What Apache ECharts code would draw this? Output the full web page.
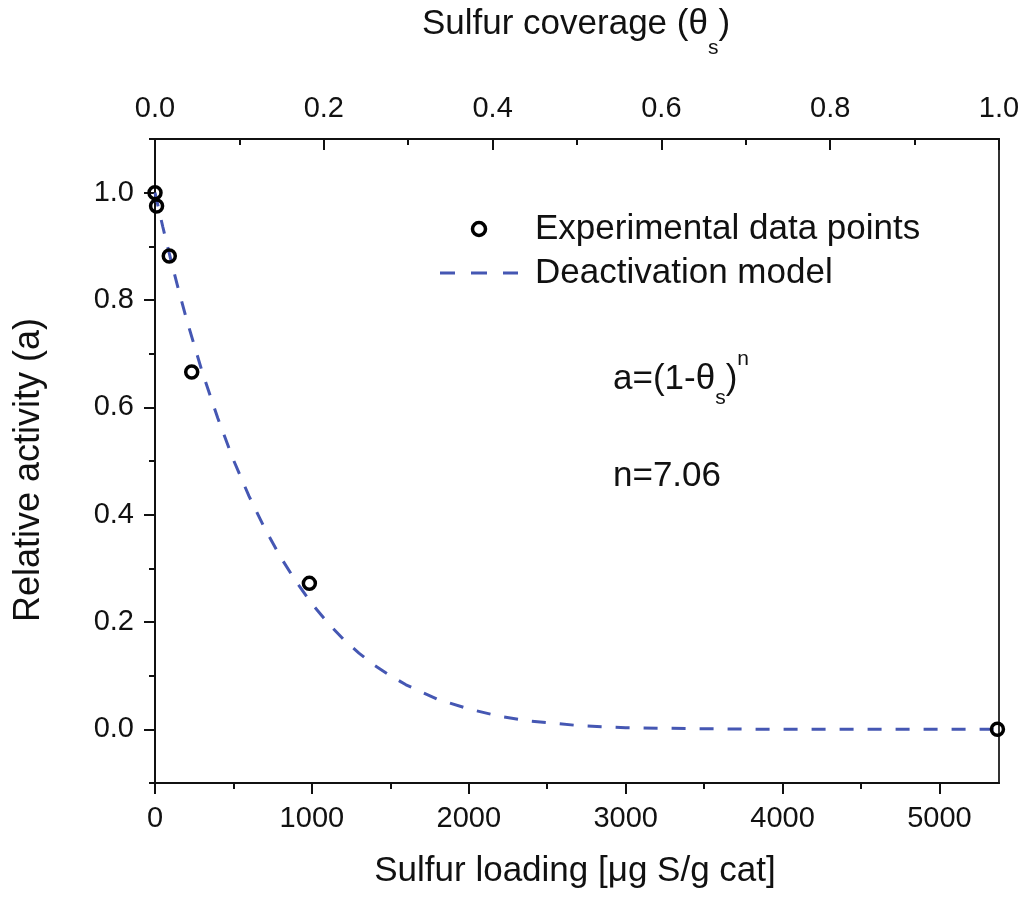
<!DOCTYPE html>
<html>
<head>
<meta charset="utf-8">
<script src="https://cdn.jsdelivr.net/npm/echarts@6/dist/echarts.min.js"></script>
<style>
html,body{margin:0;padding:0;background:#fff;}
#chart{width:1029px;height:901px;}
</style>
</head>
<body>
<div id="chart"></div>
<script>
// Experimental data points (sulfur loading in µg S/g cat, relative activity)
const expLoading = [0, 10, 91, 234, 984, 5370];
const expActivity = [1.0, 0.975, 0.882, 0.666, 0.272, 0.0];

// Deactivation model curve
const modelLoading = [0, 50, 100, 150, 200, 300, 400, 500, 600, 700, 800, 900, 1000, 1100, 1200, 1300, 1400, 1500, 1600, 1800, 2000, 2200, 2400, 2700, 3000, 3500, 4000, 4500, 5000, 5380];
const modelActivity = [1.0, 0.936, 0.876, 0.819, 0.765, 0.667, 0.580, 0.502, 0.434, 0.374, 0.321, 0.275, 0.234, 0.199, 0.168, 0.142, 0.119, 0.100, 0.083, 0.056, 0.038, 0.024, 0.015, 0.007, 0.003, 0.001, 0.0, 0.0, 0.0, 0.0];

// Tick values
const bottomMajor = [0, 1000, 2000, 3000, 4000, 5000];
const bottomMinor = [500, 1500, 2500, 3500, 4500];
const topMajor = [0, 0.2, 0.4, 0.6, 0.8, 1.0];
const topMinor = [0.1, 0.3, 0.5, 0.7, 0.9];
const leftMajor = [0, 0.2, 0.4, 0.6, 0.8, 1.0];
const leftMinor = [-0.1, 0.1, 0.3, 0.5, 0.7, 0.9, 1.1];

const FONT = '"Liberation Sans", Arial, Helvetica, sans-serif';
const AX = '#111';
const BLUE = '#4557b3';
const TXT = 35;
const TICK = 29;

const chart = echarts.init(document.getElementById('chart'), null, {renderer: 'canvas'});

const noSplit = {show: false};

const option = {
  backgroundColor: '#fff',
  animation: false,
  textStyle: {fontFamily: FONT},
  grid: {left: 155, right: 30, top: 139, bottom: 118, show: true, borderColor: '#333', borderWidth: 2, backgroundColor: 'transparent'},
  legend: {
    orient: 'vertical', left: 440, top: 211, padding: 0,
    itemWidth: 78, itemHeight: 13, itemGap: 8,
    textStyle: {fontFamily: FONT, fontSize: TXT, color: '#111', lineHeight: 36, padding: [0, 0, 0, 12]},
    data: [
      {name: 'Experimental data points', itemStyle: {color: 'rgba(255,255,255,0)', borderColor: '#000', borderWidth: 3.5}},
      {name: 'Deactivation model', icon: 'path://M0,0h15v3h-15z M31,0h16v3h-16z M63,0h15v3h-15z'}
    ]
  },
  xAxis: [
    {
      type: 'value', position: 'bottom', min: 0, max: 5380,
      axisLine: {show: true, onZero: false, lineStyle: {color: AX, width: 2}},
      axisTick: {show: true, inside: false, length: 11, customValues: bottomMajor, lineStyle: {color: AX, width: 2}},
      axisLabel: {show: true, customValues: bottomMajor, margin: 21, fontSize: TICK, color: '#111', fontFamily: FONT,
        formatter: v => String(Math.round(v))},
      splitLine: noSplit
    },
    {
      type: 'value', position: 'bottom', min: 0, max: 5380,
      axisLine: {show: false, onZero: false},
      axisTick: {show: true, inside: false, length: 6, customValues: bottomMinor, lineStyle: {color: AX, width: 2}},
      axisLabel: {show: false},
      splitLine: noSplit
    },
    {
      type: 'value', position: 'top', min: 0, max: 1,
      axisLine: {show: true, onZero: false, lineStyle: {color: AX, width: 2}},
      axisTick: {show: true, inside: true, length: 11, customValues: topMajor, lineStyle: {color: AX, width: 2}},
      axisLabel: {show: true, customValues: topMajor, margin: 16, fontSize: TICK, color: '#111', fontFamily: FONT,
        formatter: v => v.toFixed(1)},
      splitLine: noSplit
    },
    {
      type: 'value', position: 'top', min: 0, max: 1,
      axisLine: {show: false, onZero: false},
      axisTick: {show: true, inside: true, length: 6, customValues: topMinor, lineStyle: {color: AX, width: 2}},
      axisLabel: {show: false},
      splitLine: noSplit
    }
  ],
  yAxis: [
    {
      type: 'value', position: 'left', min: -0.1, max: 1.1,
      axisLine: {show: true, onZero: false, lineStyle: {color: AX, width: 2}},
      axisTick: {show: true, inside: false, length: 11, customValues: leftMajor, lineStyle: {color: AX, width: 2}},
      axisLabel: {show: true, customValues: leftMajor, margin: 21, fontSize: TICK, color: '#111', fontFamily: FONT,
        formatter: v => v.toFixed(1)},
      splitLine: noSplit
    },
    {
      type: 'value', position: 'left', min: -0.1, max: 1.1,
      axisLine: {show: false, onZero: false},
      axisTick: {show: true, inside: false, length: 6, customValues: leftMinor, lineStyle: {color: AX, width: 2}},
      axisLabel: {show: false},
      splitLine: noSplit
    }
  ],
  series: [
    {
      name: 'Deactivation model', type: 'line', xAxisIndex: 0, yAxisIndex: 0,
      data: modelLoading.map((x, i) => [x, modelActivity[i]]),
      symbol: 'none', showSymbol: false, smooth: false,
      lineStyle: {color: BLUE, width: 3, type: [14, 14]},
      itemStyle: {color: BLUE},
      z: 2
    },
    {
      name: 'Experimental data points', type: 'scatter', xAxisIndex: 0, yAxisIndex: 0,
      data: expLoading.map((x, i) => [x, expActivity[i]]),
      symbol: 'circle', symbolSize: 12,
      itemStyle: {color: 'rgba(255,255,255,0)', borderColor: '#000', borderWidth: 3.5, opacity: 1},
      z: 3
    }
  ],
  graphic: [
    {
      type: 'text', x: 576, y: 24,
      style: {
        text: '{t|Sulfur coverage (θ}{s|s}{t|)}',
        align: 'center', verticalAlign: 'middle',
        rich: {
          t: {fontSize: TXT, fontFamily: FONT, fill: '#111', lineHeight: 70},
          s: {fontSize: 21, fontFamily: FONT, fill: '#111', lineHeight: 20, verticalAlign: 'bottom'}
        }
      }
    },
    {
      type: 'text', x: 575, y: 871,
      style: {text: 'Sulfur loading [μg S/g cat]', fontSize: TXT, fontFamily: FONT, fill: '#111', align: 'center', verticalAlign: 'middle'}
    },
    {
      type: 'text', x: 29, y: 470, rotation: Math.PI / 2,
      style: {text: 'Relative activity (a)', fontSize: 36, fontFamily: FONT, fill: '#111', align: 'center', verticalAlign: 'middle'}
    },
    {
      type: 'text', x: 613, y: 379,
      style: {
        text: '{t|a=(1-θ}{s|s}{t|)}{p|n}',
        align: 'left', verticalAlign: 'middle',
        rich: {
          t: {fontSize: TXT, fontFamily: FONT, fill: '#111', lineHeight: 60},
          s: {fontSize: 21, fontFamily: FONT, fill: '#111', lineHeight: 20, verticalAlign: 'bottom'},
          p: {fontSize: 21, fontFamily: FONT, fill: '#111', lineHeight: 36, verticalAlign: 'top'}
        }
      }
    },
    {
      type: 'text', x: 613, y: 476,
      style: {text: 'n=7.06', fontSize: TXT, fontFamily: FONT, fill: '#111', align: 'left', verticalAlign: 'middle'}
    }
  ]
};
chart.setOption(option);
</script>
</body>
</html>
